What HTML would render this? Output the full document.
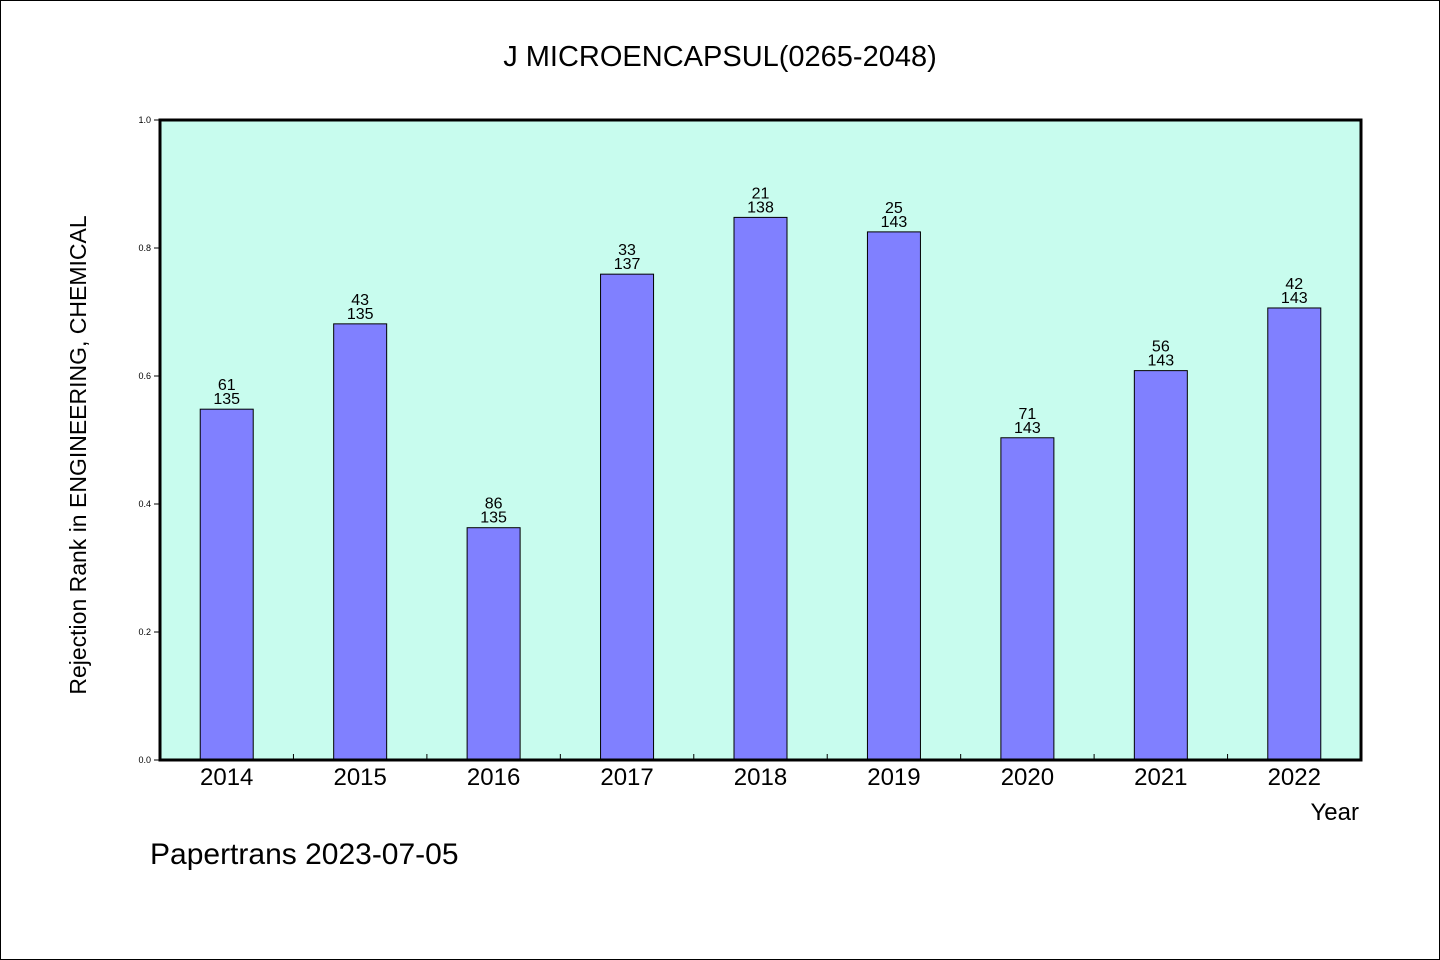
<!DOCTYPE html>
<html><head><meta charset="utf-8"><style>
html,body{margin:0;padding:0;background:#fff}
svg{display:block;font-family:"WenQuanYi Zen Hei","Liberation Sans",sans-serif}
</style></head><body>
<svg id="c" width="1440" height="960" viewBox="0 0 1440 960">
<rect x="0.5" y="0.5" width="1439" height="959" fill="#fff" stroke="#000"/>
<text x="720" y="66" font-size="29" text-anchor="middle">J MICROENCAPSUL(0265-2048)</text>
<rect x="160" y="120" width="1201" height="640" fill="#c8fcee"/>
<g id="bars"></g>
<rect x="160" y="120" width="1201" height="640" fill="none" stroke="#000" stroke-width="3"/>
<g id="axes"></g>
<text x="86" y="455" font-size="23" text-anchor="middle" transform="rotate(-90 86 455)">Rejection Rank in ENGINEERING, CHEMICAL</text>
<text x="1359" y="820" font-size="24" text-anchor="end">Year</text>
<text x="150" y="864" font-size="30">Papertrans 2023-07-05</text>
</svg>
<script>
const years = ["2014","2015","2016","2017","2018","2019","2020","2021","2022"];
const ranks = [61,43,86,33,21,25,71,56,42];
const totals = [135,135,135,137,138,143,143,143,143];
const yTicks = ["0.0","0.2","0.4","0.6","0.8","1.0"];
const NS="http://www.w3.org/2000/svg";
const X0=160,W=1201,Y0=760,H=640;
const step=W/years.length;
const xs=i=>X0+step*(i+0.5);
const ys=v=>Y0-v*H;
function mk(t,a,p,txt){const e=document.createElementNS(NS,t);for(const k in a)e.setAttribute(k,a[k]);if(txt!=null)e.textContent=txt;p.appendChild(e);return e;}
const bg=document.getElementById('bars'),ag=document.getElementById('axes');
years.forEach((y,i)=>{
  const v=1-ranks[i]/totals[i];
  const b=mk('rect',{x:xs(i)-26.5,y:ys(v),width:53,height:Y0-ys(v),fill:'#8080ff',stroke:'#000','stroke-width':1},bg);
  
  
  const t1=mk('text',{x:xs(i),y:ys(v)-19,'font-size':16,'text-anchor':'middle'},bg,String(ranks[i]));
  
  
  const t2=mk('text',{x:xs(i),y:ys(v)-5,'font-size':16,'text-anchor':'middle'},bg,String(totals[i]));
  
  
  const xl=mk('text',{x:xs(i),y:785,'font-size':24,'text-anchor':'middle'},ag,y);
  
  
  if(i>0){const tk=mk('line',{x1:X0+step*i,x2:X0+step*i,y1:754,y2:760,stroke:'#000'},ag);
  
  }
});
yTicks.forEach(l=>{
  const v=parseFloat(l);
  const tk=mk('line',{x1:154,x2:160,y1:ys(v),y2:ys(v),stroke:'#000'},ag);
  
  
  const t=mk('text',{x:151,y:ys(v)+3,'font-size':9,'text-anchor':'end'},ag,l);
  
  
});
</script>
</body></html>
